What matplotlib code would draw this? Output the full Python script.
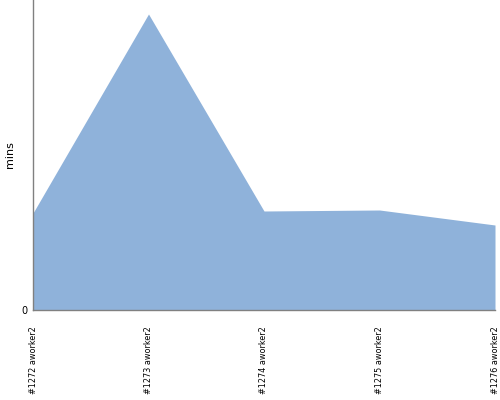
import matplotlib
matplotlib.use("Agg")
import matplotlib.pyplot as plt
from matplotlib import font_manager

categories = ["#1272 aworker2", "#1273 aworker2", "#1274 aworker2", "#1275 aworker2", "#1276 aworker2"]
values = [9.7, 29.6, 9.9, 10.0, 8.5]

fams = {f.name for f in font_manager.fontManager.ttflist}
tickfont = "Liberation Sans Narrow" if "Liberation Sans Narrow" in fams else "DejaVu Sans"
print(tickfont)

fig = plt.figure(figsize=(5, 4), dpi=100)
ax = fig.add_axes([0.066, 0.225, 0.924, 0.775])
x = list(range(len(categories)))
ax.fill_between(x, values, 0, color="#8fb2da", linewidth=0)
ax.set_xlim(0, len(categories) - 1)
ax.set_ylim(0, 31)
ax.set_xticks(x)
ax.set_xticklabels(categories, rotation=90, fontsize=6.5, family=tickfont, stretch="condensed")
ax.set_yticks([0])
ax.set_yticklabels(["0"], fontsize=7)
ax.tick_params(length=0, pad=12, axis="x")
ax.tick_params(length=0, pad=4, axis="y")
fig.text(10 / 500, 1 - 155 / 400, "mins", rotation=90, fontsize=8, ha="center", va="center")
for s in ["top", "right"]:
    ax.spines[s].set_visible(False)
for s in ["left", "bottom"]:
    ax.spines[s].set_color("#808080")
    ax.spines[s].set_linewidth(1)
fig.savefig("out.png", dpi=100)
